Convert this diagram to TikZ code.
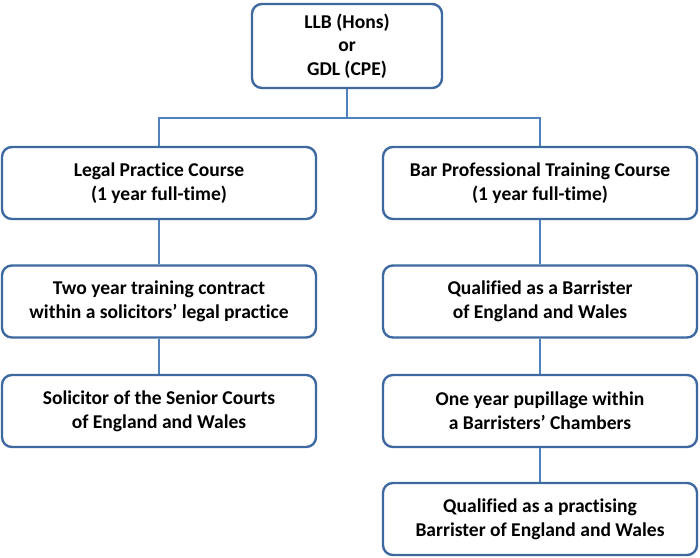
\documentclass[tikz,border=0pt]{standalone}
\usepackage{fontspec}
\setmainfont{Carlito}[Ligatures=NoCommon]
\usepackage{xcolor}
\usepackage{tikz}
\definecolor{lineblue}{RGB}{79,129,189}
\definecolor{edgeblue}{RGB}{62,104,160}
\tikzstyle{stage} = [draw=edgeblue,line width=1.7pt,rounded corners=7pt,fill=white,align=center,
  font=\fontsize{13.9}{16.8}\selectfont\bfseries,minimum width=7.85cm,minimum height=1.8cm,inner sep=0pt]
\tikzstyle{link} = [draw=lineblue,line width=1.3pt]

\begin{document}
\begin{tikzpicture}
            \useasboundingbox (0,0) rectangle (17.5,13.95);
            \node[stage,minimum width=4.75cm,minimum height=2.1cm] (degree) at (8.675,12.8) {LLB (Hons)\\or\\GDL (CPE)};
            \node[stage] (lpc) at (3.975,9.375) {Legal Practice Course\\(1 year full-time)};
            \node[stage] (contract) at (3.975,6.4125) {Two year training contract\\within a solicitors' legal practice};
            \node[stage] (solicitor) at (3.975,3.675) {Solicitor of the Senior Courts\\of England and Wales};
            \node[stage] (bptc) at (13.5,9.375) {Bar Professional Training Course\\(1 year full-time)};
            \node[stage] (barrister) at (13.5,6.4125) {Qualified as a Barrister\\of England and Wales};
            \node[stage] (pupillage) at (13.5,3.675) {One year pupillage within\\a Barristers' Chambers};
            \node[stage] (practising) at (13.5,0.975) {Qualified as a practising\\Barrister of England and Wales};
            \draw[link] (degree.south) -- ++(0,-0.725) coordinate (split);
            \draw[link] (lpc.north) |- (split) -| (bptc.north);
            \draw[link] (lpc) -- (contract);
            \draw[link] (contract) -- (solicitor);
            \draw[link] (bptc) -- (barrister);
            \draw[link] (barrister) -- (pupillage);
            \draw[link] (pupillage) -- (practising);
        \end{tikzpicture}
\end{document}
